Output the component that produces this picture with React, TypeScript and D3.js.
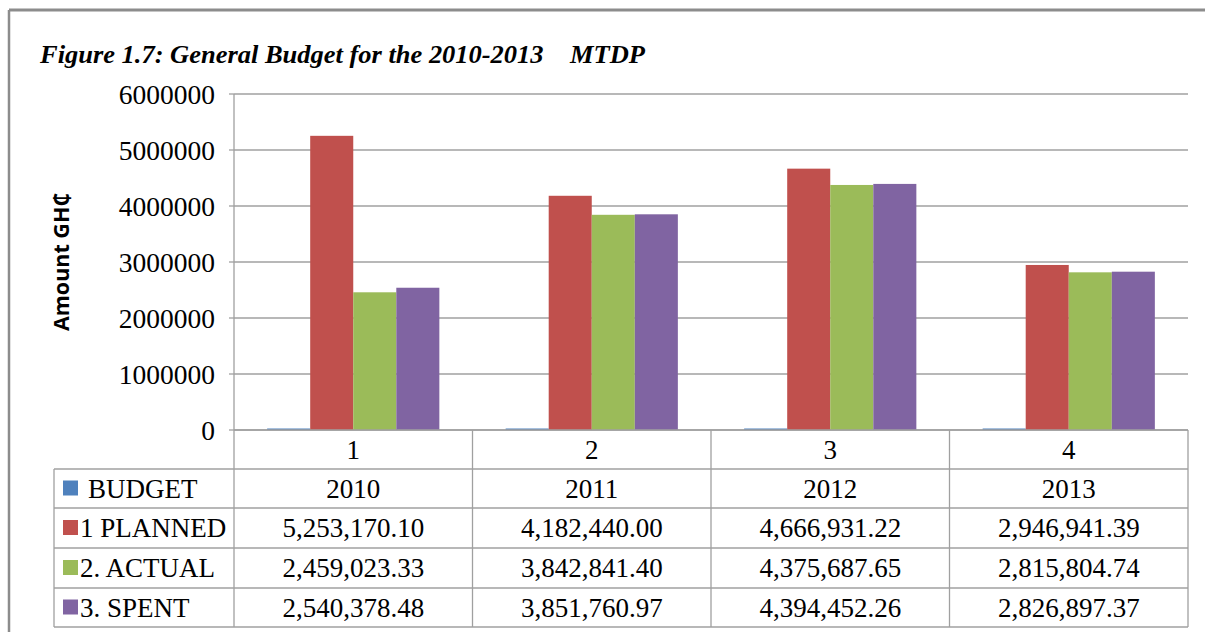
import React from 'react';
import * as d3 from 'd3';

const categories = ['1', '2', '3', '4'];
const years = [2010, 2011, 2012, 2013];
const seriesNames = ['BUDGET', '1 PLANNED', '2. ACTUAL', '3. SPENT'];
const budget = [2010, 2011, 2012, 2013];
const planned = [5253170.1, 4182440.0, 4666931.22, 2946941.39];
const actual = [2459023.33, 3842841.4, 4375687.65, 2815804.74];
const spent = [2540378.48, 3851760.97, 4394452.26, 2826897.37];
const yTicks = [0, 1000000, 2000000, 3000000, 4000000, 5000000, 6000000];
const colors = ['#4F81BD', '#C0504D', '#9BBB59', '#8064A2'];

const serif = '"Liberation Serif", "Times New Roman", serif';

const App = () => {
  const W = 1205;
  const H = 632;
  const plot = { left: 234, right: 1188, top: 94, bottom: 430 };
  const tableLeft = 54;
  const rowEdges = [430, 469, 508, 548, 588, 627];
  const fs = 27;

  const seriesValues = [budget, planned, actual, spent];

  const y = d3.scaleLinear().domain([0, 6000000]).range([plot.bottom, plot.top]);
  const x0 = d3.scaleBand().domain(categories).range([plot.left, plot.right]);
  const x1 = d3.scaleBand().domain(seriesNames).range([0, x0.bandwidth()]).paddingOuter(0.77);

  const fmt = d3.format(',.2f');
  const lineColor = '#A0A0A0';

  return (
    <svg width={W} height={H} style={{ position: 'absolute', left: 0, top: 0, background: '#fff' }}>
      {/* outer frame */}
      <line x1={9} y1={10} x2={W} y2={10} stroke="#8c8c8c" strokeWidth={3} />
      <line x1={9} y1={10} x2={9} y2={H} stroke="#8c8c8c" strokeWidth={2.5} />

      <text
        x={40}
        y={63}
        fontFamily={serif}
        fontSize={25}
        fontWeight="bold"
        fontStyle="italic"
        xmlSpace="preserve"
        textLength={605}
        lengthAdjust="spacingAndGlyphs"
      >
        {'Figure 1.7: General Budget for the 2010-2013    MTDP'}
      </text>

      {/* gridlines */}
      {yTicks.map(t => (
        <line key={t} x1={plot.left} x2={plot.right} y1={y(t)} y2={y(t)} stroke={lineColor} strokeWidth={1.3} />
      ))}
      <line x1={plot.left} x2={plot.left} y1={plot.top} y2={rowEdges[5]} stroke={lineColor} strokeWidth={1.3} />
      {yTicks.map(t => (
        <line key={'tk' + t} x1={plot.left - 5} x2={plot.left} y1={y(t)} y2={y(t)} stroke={lineColor} strokeWidth={1.3} />
      ))}
      {yTicks.map(t => (
        <text key={'tl' + t} x={215} y={y(t)} dy="0.35em" textAnchor="end" fontFamily={serif} fontSize={fs + 0.5} fill="#000">
          {d3.format('d')(t)}
        </text>
      ))}

      <text
        transform={`translate(69,262) rotate(-90)`}
        textAnchor="middle"
        fontFamily='"Open Sans", "Noto Sans", sans-serif'
        fontWeight="bold"
        fontSize={21.5}
      >
        Amount GH₵
      </text>

      {/* bars */}
      {categories.map((c, ci) => (
        <g key={c} transform={`translate(${x0(c)},0)`}>
          {seriesNames.map((s, si) => {
            const v = seriesValues[si][ci];
            const top = y(v);
            return (
              <rect
                key={s}
                x={x1(s)}
                y={Math.min(top, plot.bottom - 1.5)}
                width={x1.bandwidth()}
                height={Math.max(plot.bottom - top, 1.5)}
                fill={colors[si]}
              />
            );
          })}
        </g>
      ))}

      {/* data table */}
      {rowEdges.slice(1).map(r => (
        <line key={'r' + r} x1={tableLeft} x2={plot.right} y1={r} y2={r} stroke={lineColor} strokeWidth={1.3} />
      ))}
      <line x1={plot.left} x2={plot.right} y1={plot.bottom} y2={plot.bottom} stroke={lineColor} strokeWidth={1.3} />
      <line x1={tableLeft} x2={tableLeft} y1={rowEdges[1]} y2={rowEdges[5]} stroke={lineColor} strokeWidth={1.3} />
      {categories.map(c => (
        <line
          key={'v' + c}
          x1={(x0(c) as number) + x0.bandwidth()}
          x2={(x0(c) as number) + x0.bandwidth()}
          y1={plot.bottom}
          y2={rowEdges[5]}
          stroke={lineColor}
          strokeWidth={1.3}
        />
      ))}

      {categories.map(c => (
        <text
          key={'c' + c}
          x={(x0(c) as number) + x0.bandwidth() / 2}
          y={(rowEdges[0] + rowEdges[1]) / 2}
          dy="0.35em"
          textAnchor="middle"
          fontFamily={serif}
          fontSize={fs}
        >
          {c}
        </text>
      ))}

      {seriesNames.map((s, si) => {
        const cy = (rowEdges[si + 1] + rowEdges[si + 2]) / 2;
        return (
          <g key={'row' + s}>
            <rect x={63} y={cy - 8} width={15} height={15} fill={colors[si]} />
            <text x={si === 0 ? 88 : 80} y={cy} dy="0.35em" fontFamily={serif} fontSize={fs}>
              {s}
            </text>
            {categories.map((c, ci) => (
              <text
                key={c}
                x={(x0(c) as number) + x0.bandwidth() / 2}
                y={cy}
                dy="0.35em"
                textAnchor="middle"
                fontFamily={serif}
                fontSize={fs}
              >
                {si === 0 ? String(years[ci]) : fmt(seriesValues[si][ci])}
              </text>
            ))}
          </g>
        );
      })}
    </svg>
  );
};

export default App;
